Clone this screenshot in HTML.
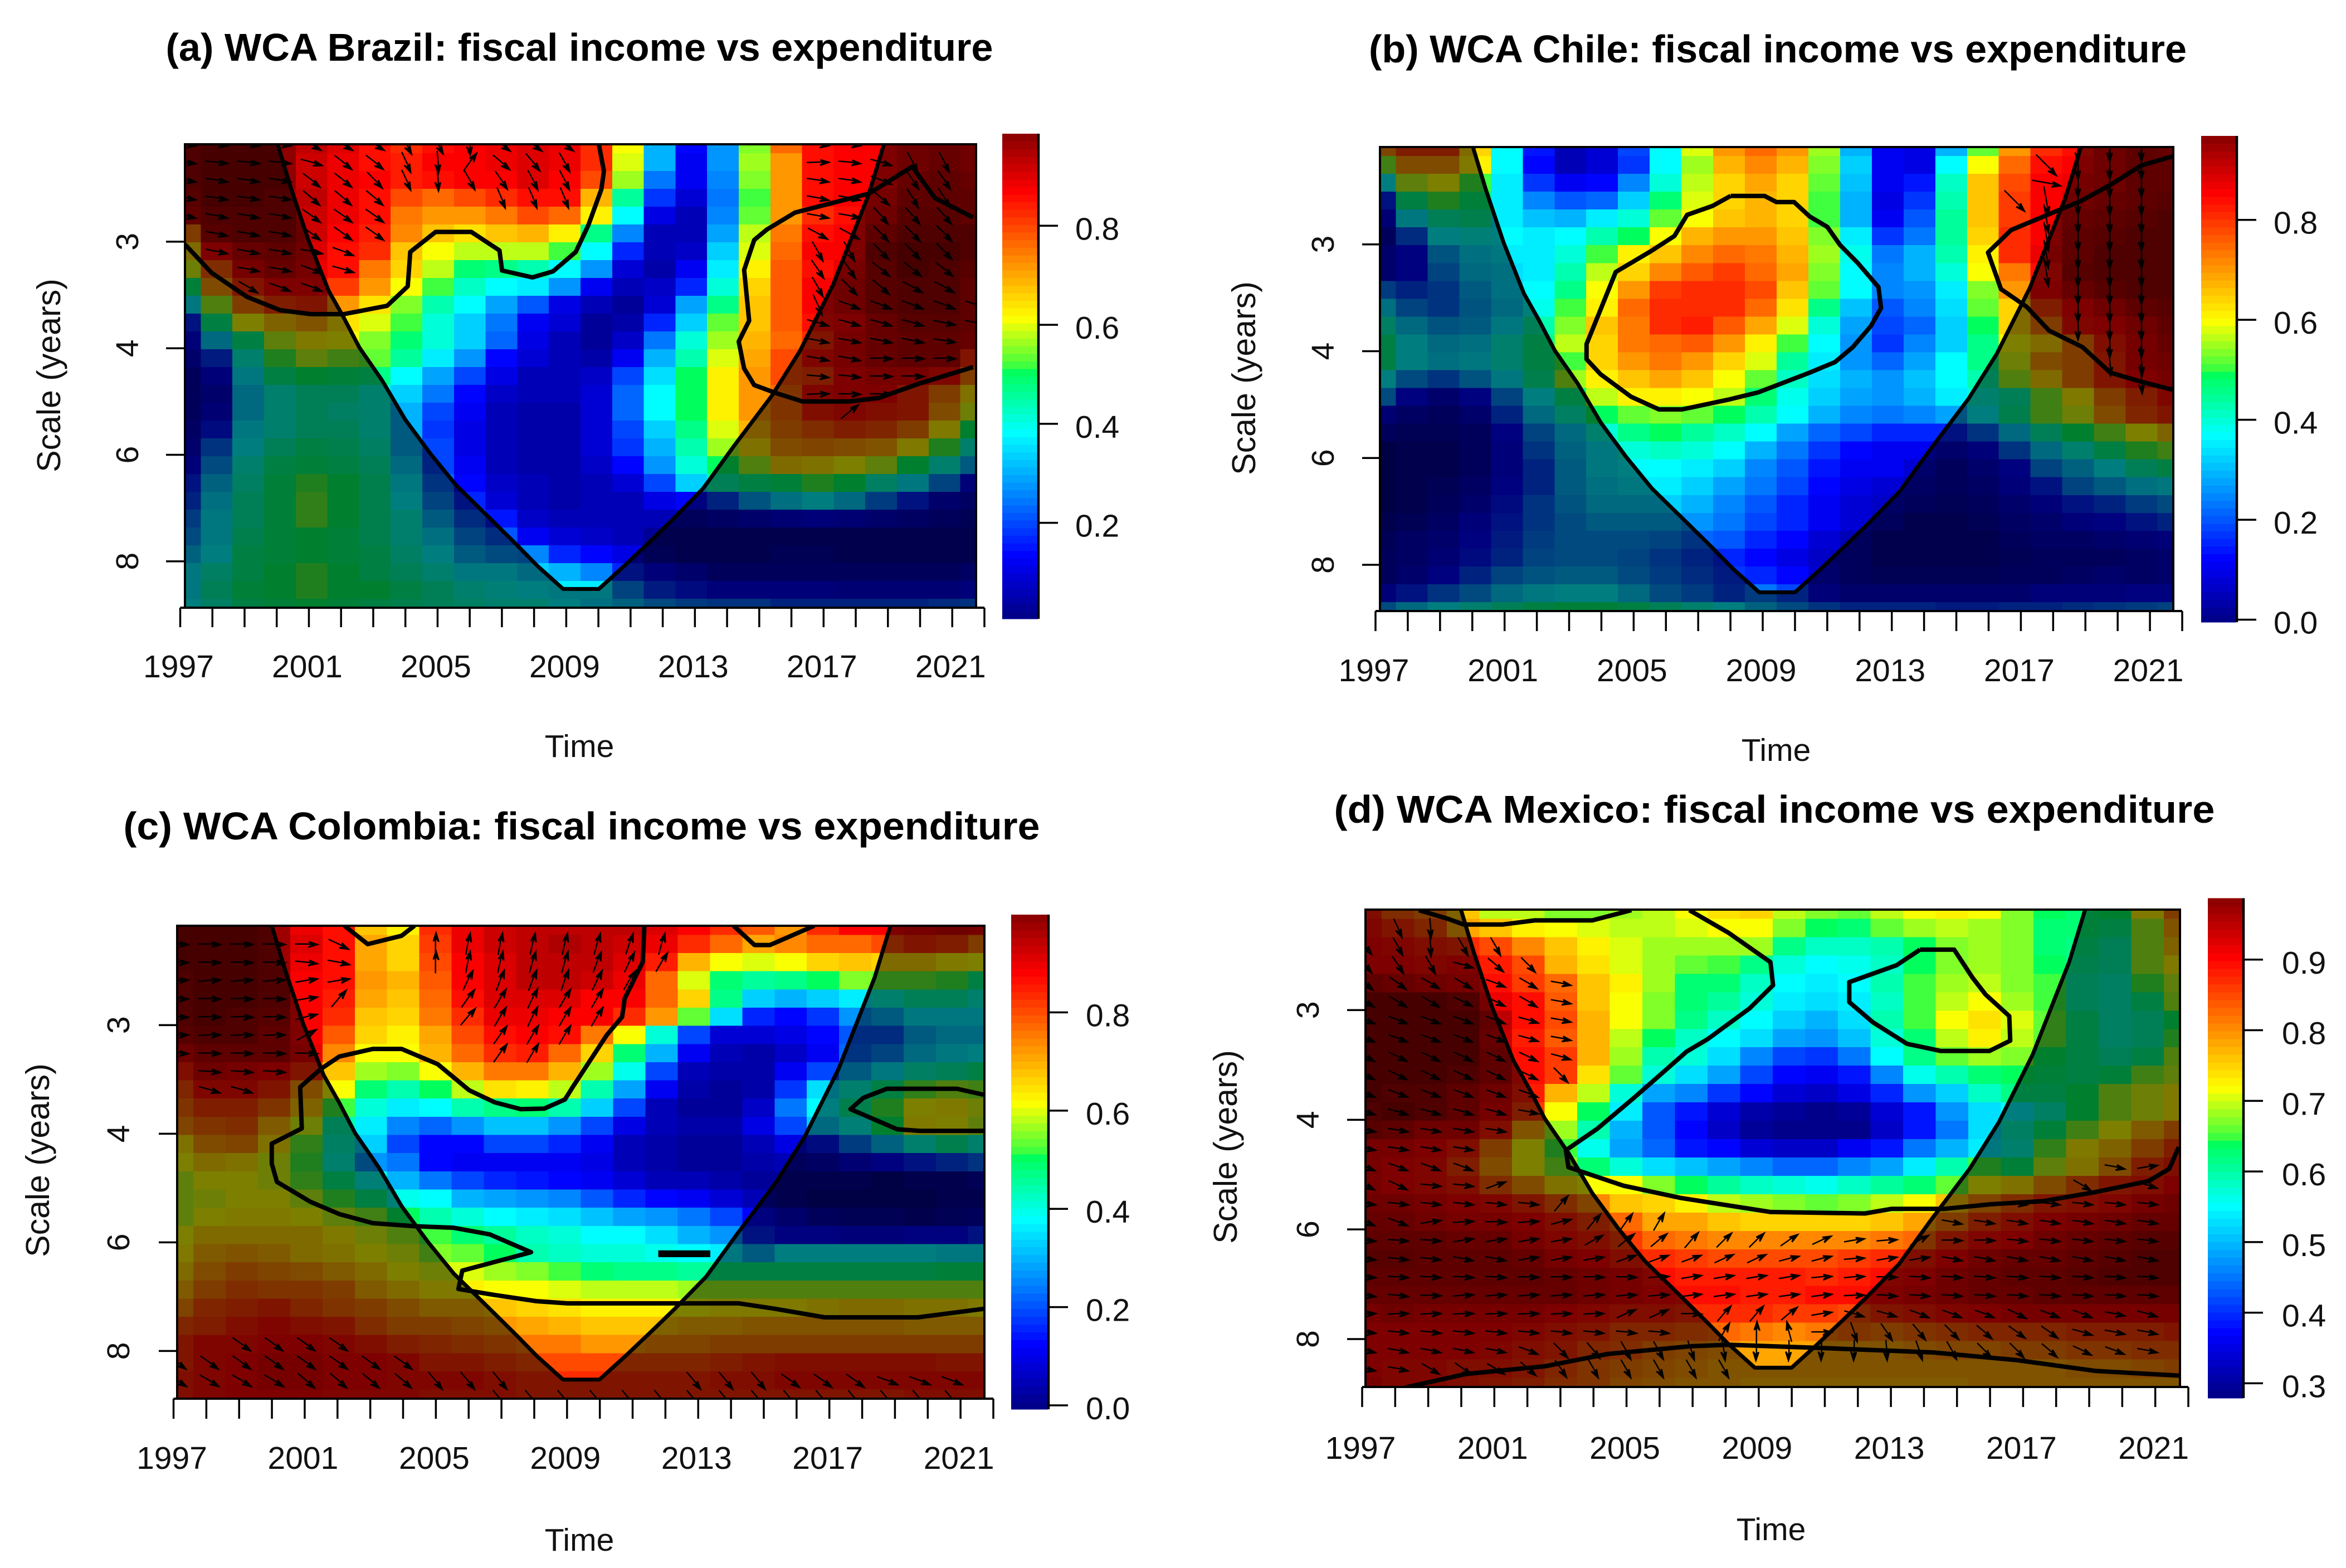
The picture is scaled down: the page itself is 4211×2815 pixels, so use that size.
<!DOCTYPE html>
<html lang="en">
<head>
<meta charset="utf-8">
<title>WCA fiscal income vs expenditure</title>
<style>
html,body{margin:0;padding:0;background:#fff}
svg{display:block}
text{font-family:"Liberation Sans",Arial,sans-serif;fill:#111}
.ttl{font-weight:bold;font-size:70px;fill:#000}
.lab{font-size:57px}
.ylab{font-size:59px}
</style>
</head>
<body>
<svg id="chart" xmlns="http://www.w3.org/2000/svg" width="4211" height="2815" viewBox="0 0 4211 2815">
<rect x="0" y="0" width="4211" height="2815" fill="#fff"/>
<g id="panel-a">
<text class="ttl" x="1040" y="109" text-anchor="middle" textLength="1485" lengthAdjust="spacingAndGlyphs">(a) WCA Brazil: fiscal income vs expenditure</text>
<text class="lab" x="1040" y="1359" text-anchor="middle">Time</text>
<text class="ylab" transform="translate(108 674) rotate(-90)" text-anchor="middle">Scale (years)</text>
</g>
<g id="panel-b">
<text class="ttl" x="3191" y="112" text-anchor="middle" textLength="1468" lengthAdjust="spacingAndGlyphs">(b) WCA Chile: fiscal income vs expenditure</text>
<text class="lab" x="3188" y="1366" text-anchor="middle">Time</text>
<text class="ylab" transform="translate(2253 679) rotate(-90)" text-anchor="middle">Scale (years)</text>
</g>
<g id="panel-c">
<text class="ttl" x="1044" y="1507" text-anchor="middle" textLength="1645" lengthAdjust="spacingAndGlyphs">(c) WCA Colombia: fiscal income vs expenditure</text>
<text class="lab" x="1040" y="2784" text-anchor="middle">Time</text>
<text class="ylab" transform="translate(88 2083) rotate(-90)" text-anchor="middle">Scale (years)</text>
</g>
<g id="panel-d">
<text class="ttl" x="3185" y="1477" text-anchor="middle" textLength="1581" lengthAdjust="spacingAndGlyphs">(d) WCA Mexico: fiscal income vs expenditure</text>
<text class="lab" x="3179" y="2765" text-anchor="middle">Time</text>
<text class="ylab" transform="translate(2220 2059) rotate(-90)" text-anchor="middle">Scale (years)</text>
</g>
</svg>
<script>
const yearTicks=[1997,1998,1999,2000,2001,2002,2003,2004,2005,2006,2007,2008,2009,2010,2011,2012,2013,2014,2015,2016,2017,2018,2019,2020,2021,2022];
const yearLabels=[1997,2001,2005,2009,2013,2017,2021];
const periodTicks=[2.828,4,5.657,8];
const periodLabels=['3','4','6','8'];
const barTicksA=[0.2,0.4,0.6,0.8];
const barTicksB=[0,0.2,0.4,0.6,0.8];
const barTicksC=[0,0.2,0.4,0.6,0.8];
const barTicksD=[0.3,0.4,0.5,0.6,0.7,0.8,0.9];

const coherenceA=[
[98,99,99,99,94,91,86,83,87,88,90,92,90,84,62,31,13,28,56,78,87,88,88,92,93,92],
[97,99,99,99,93,90,87,85,88,88,90,92,90,84,60,31,12,28,57,72,87,88,88,92,93,92],
[97,99,99,99,93,90,88,85,87,88,89,91,88,81,57,24,11,26,55,72,87,88,89,93,94,93],
[96,99,99,98,94,90,87,81,77,81,84,87,86,70,46,18,8,24,53,72,86,88,90,95,95,94],
[95,98,98,97,93,90,87,76,72,73,76,80,78,64,38,10,6,25,54,73,84,87,91,96,96,94],
[76,96,98,98,93,88,85,74,68,65,68,70,63,48,26,6,5,29,58,75,87,88,94,98,98,97],
[67,88,93,95,92,87,83,68,62,58,59,58,52,38,16,5,7,33,60,78,88,88,97,99,99,97],
[60,79,90,93,90,87,75,66,58,49,48,44,39,27,9,4,12,37,64,79,87,90,96,99,98,96],
[49,73,84,89,88,82,72,62,52,43,39,36,27,12,6,7,17,42,66,79,88,92,96,98,97,95],
[37,57,75,82,84,72,65,56,45,38,29,21,10,5,3,9,29,48,68,79,88,91,96,98,97,95],
[17,47,61,68,71,65,60,53,42,33,24,12,8,3,4,17,34,54,68,79,86,89,93,96,96,94],
[11,34,48,58,63,61,56,49,41,33,22,10,6,3,7,24,41,57,70,78,83,90,93,95,95,93],
[8,18,42,52,58,55,54,46,37,27,13,8,5,4,11,31,44,60,71,80,86,90,93,94,94,84],
[6,11,37,47,50,49,47,39,29,19,10,6,5,7,20,35,51,64,73,80,82,88,90,90,87,76],
[5,9,33,41,44,44,42,34,24,13,7,5,5,8,23,38,50,64,73,77,86,88,88,84,76,65],
[5,10,33,41,44,43,41,31,20,12,6,4,4,8,23,38,50,63,73,78,85,86,85,83,72,60],
[7,15,36,42,45,44,42,30,18,10,6,4,4,9,20,34,48,60,70,75,79,82,81,76,63,50],
[9,22,39,45,47,46,43,30,19,10,6,4,4,8,18,31,44,57,65,73,74,73,71,64,53,41],
[12,27,41,47,49,48,45,34,20,11,6,4,4,7,13,28,41,51,57,66,65,62,58,50,42,30],
[17,32,43,49,53,50,46,37,23,13,7,5,4,6,9,19,33,44,47,49,52,50,43,37,25,12],
[20,35,44,49,54,50,46,39,26,16,9,6,4,5,6,10,14,20,29,35,38,33,24,16,9,7],
[24,36,45,49,54,50,46,41,31,21,15,7,5,5,5,5,5,7,9,10,12,10,9,7,5,4],
[27,37,46,49,50,49,46,41,35,26,21,11,8,7,6,3,2,2,2,3,2,2,2,2,2,2],
[32,39,47,49,50,49,47,43,38,31,27,25,17,14,10,4,3,3,3,4,4,3,3,3,3,3],
[36,43,48,50,52,50,48,45,41,37,36,33,30,25,16,11,9,6,6,6,6,6,6,6,6,7],
[37,45,49,50,52,51,50,47,44,41,40,39,37,37,25,18,15,12,11,11,11,10,10,10,10,11],
[39,43,47,49,50,49,48,46,44,43,42,41,39,35,32,27,24,23,22,20,20,20,20,20,21,23]
];
const coherenceB=[
[74,82,82,66,38,15,5,9,19,38,60,73,78,72,57,31,11,10,30,54,72,83,87,92,95,93],
[56,72,72,64,38,14,5,8,18,38,57,69,74,69,55,33,11,10,38,62,78,87,88,91,94,94],
[38,58,61,53,37,18,11,13,25,41,58,67,71,67,54,32,11,15,43,68,81,88,90,92,94,95],
[17,47,52,49,36,25,21,22,33,49,60,66,69,66,53,31,10,18,44,68,82,88,92,93,95,96],
[10,36,45,46,37,32,30,36,42,54,62,68,70,66,52,30,12,21,46,68,82,88,93,95,96,97],
[6,21,38,40,38,36,38,44,50,62,69,72,72,68,55,36,18,24,46,66,83,88,94,96,97,98],
[8,13,29,35,37,37,41,52,63,68,74,78,76,70,57,40,24,30,44,64,83,90,95,97,97,98],
[9,14,26,33,35,37,44,58,67,74,79,82,78,71,56,39,25,30,41,61,76,86,96,97,97,98],
[24,19,22,30,35,38,48,62,72,82,84,84,80,68,54,38,25,28,37,56,72,88,93,96,97,97],
[35,26,22,29,33,40,53,64,77,83,84,84,78,65,47,32,21,25,35,54,67,82,88,92,94,96],
[43,33,29,30,37,45,56,68,76,83,85,79,71,60,42,29,20,23,33,50,66,76,86,89,92,94],
[48,38,33,35,41,47,59,67,75,78,79,72,63,53,39,27,18,25,33,47,62,66,76,85,90,93],
[47,39,35,36,41,48,53,66,72,75,72,67,60,46,36,27,23,29,38,47,60,72,76,84,90,92],
[38,27,22,29,36,46,57,63,68,71,68,62,54,43,35,30,28,32,38,45,57,66,75,83,88,90],
[27,13,9,14,25,38,47,58,64,63,62,58,49,40,34,29,28,31,36,41,44,55,63,76,82,87],
[10,7,6,9,20,33,43,50,54,56,54,50,44,38,31,26,24,25,29,38,46,55,60,73,80,84],
[6,4,4,6,13,25,34,42,47,50,46,43,38,29,23,19,16,17,17,22,34,44,50,56,62,68],
[1,2,2,5,11,22,32,37,41,43,41,38,30,24,18,14,12,11,9,12,23,34,41,47,52,56],
[1,2,3,6,11,20,31,36,39,39,37,33,26,21,15,12,11,8,6,8,14,25,32,38,44,47],
[0,2,4,7,13,20,30,35,36,37,34,29,24,19,14,10,9,7,5,7,11,17,26,30,35,37],
[1,3,5,9,15,22,29,33,34,34,31,26,21,17,12,9,7,5,4,5,8,12,16,20,24,27],
[2,4,7,11,17,23,28,30,31,31,28,24,19,16,11,8,5,3,3,4,7,9,11,14,16,20],
[4,7,9,13,18,24,27,28,27,25,23,21,17,14,9,6,3,2,2,3,5,7,7,9,10,11],
[5,7,10,15,20,25,27,27,25,22,20,17,13,10,7,5,3,2,2,3,4,5,6,6,7,8],
[6,9,14,19,25,29,31,30,28,24,21,18,17,13,8,5,4,4,4,4,5,6,7,8,7,8],
[12,16,23,28,33,37,39,38,34,28,24,20,24,19,12,9,8,8,8,9,9,11,12,12,13,14],
[28,33,38,42,45,47,49,49,47,44,42,38,32,28,23,20,19,19,18,18,19,20,21,22,24,26]
];
const coherenceC=[
[99,99,99,98,90,86,68,64,83,90,93,94,95,95,94,92,88,83,79,72,84,88,88,90,92,90],
[99,99,99,98,91,86,71,66,82,90,93,94,96,95,93,90,84,77,71,74,78,78,81,84,82,76],
[99,99,99,97,90,87,71,67,81,89,92,94,95,94,91,85,70,62,60,62,66,68,66,66,64,62],
[98,99,99,97,89,86,72,69,79,88,92,94,95,93,90,78,60,49,46,48,51,55,54,54,52,48],
[98,99,99,97,88,85,71,68,77,87,91,92,91,89,88,78,66,47,34,31,33,37,41,44,44,42],
[98,99,98,96,88,83,68,67,75,84,90,90,89,88,84,73,54,35,17,13,18,27,30,36,36,36],
[96,98,97,95,89,79,66,63,71,80,86,88,87,75,61,42,20,9,9,10,13,21,21,30,33,33],
[92,95,95,94,90,74,62,61,69,77,84,85,78,67,49,31,12,5,4,7,12,22,26,33,37,38],
[85,91,90,88,83,68,57,55,62,70,76,76,69,57,40,19,6,4,4,11,19,31,36,43,45,47],
[81,86,87,84,72,61,49,44,51,59,65,63,58,45,29,12,4,3,4,18,35,42,47,54,57,55],
[78,82,82,78,68,52,42,37,38,45,48,49,45,33,19,6,3,3,7,24,38,46,53,61,63,60],
[74,78,79,70,60,45,36,26,22,28,32,32,27,20,10,5,4,4,10,20,33,40,50,63,62,58],
[65,73,74,65,54,43,34,20,13,14,19,19,17,12,6,4,3,3,5,10,15,24,32,41,46,42],
[61,66,65,60,52,42,28,24,13,11,11,12,12,10,6,4,3,3,4,5,7,10,13,17,19,23],
[58,62,61,60,54,47,40,31,24,19,17,15,13,12,9,5,5,4,3,2,2,2,1,3,3,4],
[58,60,61,61,58,53,48,40,38,31,29,27,26,21,16,13,12,8,6,2,1,1,0,1,2,3],
[58,62,64,63,62,59,55,50,44,41,38,37,35,32,29,27,24,19,13,8,5,4,4,3,4,5],
[61,66,67,66,66,63,60,57,52,49,46,43,41,39,38,35,31,27,17,14,13,12,12,13,14,17],
[63,70,71,70,66,65,62,60,56,54,50,45,43,42,41,40,38,36,31,38,38,38,38,38,37,36],
[66,73,75,74,73,70,66,62,60,60,57,55,52,49,48,48,46,47,48,48,48,48,48,48,49,49],
[70,76,79,78,77,75,70,66,63,63,62,61,60,58,58,58,57,57,57,57,57,57,57,57,57,57],
[74,80,82,83,81,78,75,72,70,69,68,67,65,64,63,63,62,63,64,64,65,66,66,65,65,63],
[80,82,85,86,85,83,79,76,75,74,72,71,70,68,68,68,69,70,71,71,71,71,71,70,70,70],
[83,86,87,89,88,87,85,82,80,79,77,75,75,73,73,74,74,75,76,76,76,76,76,76,76,76],
[84,87,88,90,90,89,88,86,84,83,82,81,80,80,80,80,81,82,84,85,85,85,85,85,84,84],
[85,87,89,90,90,89,88,87,86,86,85,84,84,84,84,84,84,85,85,86,86,86,86,86,86,86],
[85,87,88,88,88,87,87,86,85,85,85,84,84,84,84,84,84,84,84,84,84,84,84,85,85,85]
];
const coherenceD=[
[88,84,82,76,70,70,67,67,69,70,72,74,75,70,67,66,70,72,73,72,67,64,63,64,73,82],
[90,87,85,78,76,73,72,71,70,70,71,72,72,67,64,63,66,68,70,69,67,63,63,62,69,79],
[91,90,89,87,85,81,76,73,71,69,69,69,69,62,59,58,60,64,67,68,67,63,62,60,68,76],
[91,91,90,91,89,85,77,74,71,68,66,65,62,57,55,56,59,64,67,68,67,64,61,60,68,73],
[95,94,93,92,90,86,83,76,73,68,63,63,59,55,54,55,60,65,69,70,67,65,60,59,65,70],
[98,98,98,97,92,90,84,76,72,67,63,61,57,54,53,54,59,65,70,72,69,65,60,58,62,68],
[99,99,99,98,95,90,85,77,72,67,62,58,55,52,50,53,60,65,72,74,71,66,62,58,60,64],
[99,99,99,98,94,89,84,77,70,64,59,55,53,48,47,51,57,63,70,73,70,66,62,58,60,65],
[99,99,99,98,95,90,86,77,69,60,57,53,46,42,41,45,55,62,66,68,67,64,62,60,62,69],
[99,98,98,97,95,90,86,74,66,57,53,48,42,37,36,38,46,56,60,63,64,63,62,63,67,70],
[98,97,97,95,93,89,77,70,57,49,46,41,37,34,33,35,40,47,52,58,62,62,64,68,71,73],
[97,98,97,95,92,86,72,64,54,43,38,34,31,30,29,30,34,39,47,53,55,59,64,68,71,73],
[96,95,93,93,88,78,69,60,50,43,37,33,30,29,28,29,33,38,45,53,58,63,67,72,77,82],
[92,92,91,88,82,72,65,56,49,44,39,37,34,33,33,36,39,45,50,54,57,66,73,76,82,86],
[92,91,90,86,80,72,67,63,57,53,51,49,46,44,44,46,49,54,60,65,63,70,74,80,86,89],
[92,91,90,88,84,80,74,72,72,67,64,61,59,57,56,59,61,63,66,72,74,80,84,87,89,91],
[93,93,92,91,90,87,84,81,76,75,73,70,69,67,66,67,70,72,76,81,84,87,89,90,92,93],
[94,94,93,92,92,91,89,86,83,79,78,76,75,75,75,75,76,79,82,86,89,91,92,93,94,94],
[95,95,95,94,94,92,90,88,86,83,82,81,81,81,81,81,82,83,87,90,91,93,94,95,96,96],
[96,96,95,95,95,94,92,91,89,87,86,85,85,85,85,86,87,89,91,93,94,94,95,96,97,97],
[95,95,95,95,95,95,94,93,92,90,89,88,89,89,87,88,90,91,93,94,95,95,96,97,97,97],
[94,94,94,94,94,94,94,93,92,91,90,90,89,89,90,90,91,92,93,94,94,95,95,95,95,95],
[92,93,92,92,92,92,91,90,89,89,87,87,87,86,86,85,87,89,90,91,92,92,92,92,92,92],
[91,91,91,91,91,90,89,87,85,85,84,83,82,81,82,83,82,83,84,85,85,85,86,86,86,87],
[91,91,91,91,90,89,87,85,84,82,81,80,79,79,79,79,79,80,81,81,82,82,83,83,84,84],
[91,90,90,89,88,87,85,83,82,81,80,79,78,78,78,78,78,78,79,79,79,79,80,80,81,82],
[92,90,90,89,87,86,84,83,81,80,79,78,77,77,77,77,77,77,77,78,78,78,78,78,79,79]
];

/* cone of influence, as (grid column, grid row) */
const coiCols=[2.93,3.33,3.90,4.54,5.02,5.51,6.23,6.96,7.76,8.57,9.53,10.5,11.14,11.95,13.08,13.88,14.69,15.41,16.38,17.34,18.55,19.44,20.48,21.6,22.09];
const coiRows=[0,2.35,5.37,8.22,9.73,11.4,13.25,15.44,17.37,19.13,20.8,22.5,23.66,24.95,24.95,23.66,22.3,21.06,19.3,16.95,14.1,11.58,7.89,2.85,0];

/* significance contours, as (grid column, grid row) */
const contoursA=[
[[0,5.62],[.84,7.21],[1.96,8.56],[3.01,9.31],[3.98,9.53],[5.02,9.53],[6.39,9.06],[7.04,7.97],[7.12,6.04],[7.92,4.92],[9.05,4.92],[9.94,5.96],[10.02,7.08],[10.98,7.47],[11.63,7.13],[12.35,6.04],[12.75,4.53],[13.16,2.52],[13.24,1.51],[13.08,0]],
[[24.91,12.5],[23.22,13.42],[21.93,14.23],[20.97,14.43],[19.52,14.43],[18.63,13.93],[17.99,13.51],[17.67,12.58],[17.5,11.07],[17.83,9.9],[17.67,7.05],[17.99,5.37],[18.39,4.78],[19.28,3.83],[21.61,2.77],[22.98,1.26],[23.7,3.02],[24.91,4.11]]
];
const contoursB=[
[[11.05,2.74],[12.12,2.74],[12.49,3.08],[13.05,3.08],[13.54,3.89],[14.1,4.48],[14.5,5.49],[15.06,6.5],[15.71,7.85],[15.79,9.02],[15.47,10.03],[14.9,11.21],[14.34,12.05],[13.54,12.64],[11.93,13.74],[10.96,14.16],[9.52,14.7],[8.79,14.7],[7.91,13.99],[6.95,12.73],[6.51,11.89],[6.51,11.04],[6.95,9.11],[7.43,7.0],[8.55,5.82],[9.28,4.98],[9.68,3.8],[10.48,3.3],[11.05,2.74]],
[[24.98,13.6],[23.99,13.15],[23.02,12.64],[22.14,11.21],[21.09,10.29],[20.37,8.94],[19.57,7.96],[19.16,5.91],[19.89,4.65],[21.25,3.64],[22.06,3.05],[23.02,2.12],[23.99,1.03],[24.98,.52]]
];
const contoursC=[
[[5.18,0],[5.9,1.01],[6.95,.55],[7.35,0]],
[[17.23,0],[17.88,1.06],[18.36,1.06],[19.73,0]],
[[14.47,0],[14.42,1.98],[13.86,4.0],[13.78,5.01],[13.3,6.02],[12.25,8.87],[12.01,9.55],[11.37,10.05],[10.64,10.08],[9.84,9.71],[9.04,9.04],[8.07,7.61],[6.95,6.77],[6.06,6.77],[5.02,7.19],[4.45,7.87],[3.81,8.87],[3.86,11.14],[2.93,11.98],[2.93,13.08],[3.09,14.08],[4.13,15.18],[5.02,15.85],[6.06,16.35],[7.35,16.52],[8.55,16.6],[9.68,16.97],[10.96,17.95],[8.83,18.96],[8.71,19.97],[9.84,20.3],[11.13,20.64],[12.09,20.76],[17.4,20.76],[18.52,21.06],[20.05,21.53],[22.94,21.53],[24.98,21.06]],
[[24.98,9.29],[24.15,8.96],[21.98,8.96],[21.25,9.46],[20.85,10.08],[22.3,11.19],[23.02,11.28],[24.98,11.28]],
[[14.9,17.97],[16.51,17.97]],
[[14.9,18.1],[16.51,18.1]]
];
const contoursD=[
[[1.64,.03],[2.53,.5],[3.01,.81],[4.22,.81],[5.19,.59],[6.96,.59],[8.16,.03]],
[[9.94,.03],[11.14,1.26],[12.43,2.86],[12.51,4.12],[11.79,5.38],[10.5,7.06],[9.86,7.73],[8.89,9.24],[8.24,10.25],[7.12,11.93],[6.15,13.11],[6.23,14.03],[7.92,15.04],[9.69,15.71],[12.43,16.47],[15.33,16.55],[16.14,16.3],[17.75,16.3],[19.19,16.05],[20.8,15.88],[22.42,15.38],[24.03,14.79],[24.67,14.12],[24.96,12.94]],
[[17.02,2.18],[18.07,2.18],[18.63,3.7],[19.03,4.62],[19.76,5.8],[19.79,7.14],[19.15,7.7],[17.66,7.7],[16.62,7.31],[15.57,6.13],[14.85,5.04],[14.85,3.95],[16.3,3.03],[17.02,2.18]],
[[1.24,26.02],[3.09,25.29],[5.51,24.87],[7.44,24.2],[10.0,23.78],[11.14,23.7],[13.88,23.87],[17.42,24.12],[20.0,24.54],[22.42,25.13],[24.99,25.38]]
];

/* phase arrows: [grid row, first column, last column, phase angle in degrees] */
const phaseArrowsA=[
[0,0,3,5],[0,4,6,30],[0,7,8,60],[0,9,9,85],[0,10,12,35],[0,20,21,5],
[1,0,3,5],[1,4,4,15],[1,5,6,38],[1,7,7,65],[1,8,8,85],[1,9,9,-55],[1,10,10,40],[1,11,11,50],[1,12,12,60],[1,20,20,-2],[1,21,21,5],[1,22,22,15],[1,23,24,62],
[2,0,3,8],[2,4,5,38],[2,6,6,45],[2,7,7,65],[2,8,8,85],[2,9,9,60],[2,10,10,55],[2,11,12,62],[2,20,21,8],[2,22,22,20],[2,23,24,55],
[3,0,3,8],[3,4,6,40],[3,10,12,67],[3,20,21,10],[3,22,22,40],[3,23,24,58],
[4,0,3,10],[4,4,6,35],[4,20,21,10],[4,22,24,48],
[5,1,3,10],[5,4,6,35],[5,20,21,28],[5,22,24,45],
[6,1,4,10],[6,5,5,20],[6,20,21,60],[6,22,24,45],
[7,2,3,10],[7,4,4,20],[7,5,5,15],[7,20,21,55],[7,22,24,38],
[8,2,2,30],[8,3,4,20],[8,20,20,60],[8,21,21,45],[8,22,22,40],[8,23,24,28],
[9,20,20,65],[9,21,25,20],[10,20,23,15],[10,24,25,10],[11,20,23,10],[11,24,24,8],[12,20,21,10],[12,22,24,0],[13,20,21,5],[13,22,23,0],[14,20,20,-3],[14,21,22,0],[15,21,21,-40]
];
const phaseArrowsB=[
[0,22,24,88],[1,22,24,88],[2,22,24,88],[3,22,24,88],[4,22,24,88],[5,22,24,88],[6,22,24,88],[7,22,24,88],[8,22,24,88],[9,22,24,88],[10,22,24,88],[11,23,24,88],
[3,21,21,80],[4,21,21,80],[5,21,21,80],[6,21,21,80],[7,21,21,80],[1,21,21,45],[2,21,21,10],[3,20,20,45],[12,23,24,85],[13,24,24,85]
];
const phaseArrowsC=[
[1,0,4,0],[1,5,5,25],[2,0,3,0],[2,4,4,5],[2,5,5,10],[3,0,3,-5],[3,4,5,-10],[4,0,3,0],[4,4,4,-10],[4,5,5,-50],[5,0,3,0],[5,4,4,-15],[6,0,3,-3],[6,4,4,-30],[7,0,4,0],[8,1,3,3],[9,1,2,15],
[1,8,8,-90],[1,9,10,-80],[1,11,12,-78],[1,13,13,-75],[1,14,14,-72],[1,15,15,-75],
[2,8,8,-90],[2,9,9,-80],[2,10,10,-78],[2,11,12,-75],[2,13,13,-70],[2,14,14,-65],[2,15,15,-60],
[3,9,9,-65],[3,10,11,-70],[3,12,12,-72],[3,13,13,-65],[3,14,14,-60],
[4,9,9,-55],[4,10,10,-60],[4,11,11,-65],[4,12,13,-60],
[5,9,9,-50],[5,10,10,-60],[5,11,11,-65],[5,12,13,-60],
[6,10,10,-55],[6,11,12,-60],[7,10,10,-55],[7,11,11,-60],
[23,2,5,35],[24,0,7,35],[25,0,3,30],[25,4,7,40],[25,8,10,50],[25,16,18,50],[25,19,21,35],[25,22,24,20],[26,10,24,50]
];
const phaseArrowsD=[
[1,1,1,65],[1,2,2,85],[2,0,0,50],[2,1,1,60],[2,2,2,85],[2,3,4,60],
[3,0,0,50],[3,1,1,55],[3,2,2,60],[3,3,3,15],[3,4,4,40],[3,5,5,45],
[4,0,0,40],[4,1,1,35],[4,2,3,30],[4,4,4,20],[4,5,5,30],[4,6,6,10],
[5,0,2,30],[5,3,4,25],[5,5,5,30],[5,6,6,10],
[6,0,4,20],[6,5,5,15],[6,6,6,10],[7,0,4,20],[7,5,5,15],[7,6,6,10],
[8,0,5,25],[8,6,6,15],[9,0,5,25],[9,6,6,45],[10,0,5,20],[11,0,4,15],[11,5,5,10],[12,0,4,8],[13,0,3,8],[14,0,3,20],[14,23,23,10],[14,24,24,-10],
[15,0,1,25],[15,2,3,5],[15,4,4,-20],[15,22,22,30],[15,24,24,15],
[16,0,5,5],[16,6,6,-50],[16,20,24,5],
[17,0,1,20],[17,2,2,-10],[17,3,3,-5],[17,4,4,0],[17,5,5,-5],[17,6,6,-15],[17,7,7,-50],[17,8,8,-55],[17,9,9,-60],[17,18,18,10],[17,19,24,8],
[18,0,2,3],[18,3,6,-10],[18,7,7,-30],[18,8,9,-40],[18,10,10,-50],[18,11,12,-45],[18,13,13,-35],[18,14,14,-25],[18,15,15,-10],[18,16,16,-5],[18,17,17,-30],[18,18,19,0],[18,20,24,5],
[19,0,2,5],[19,3,4,10],[19,5,7,-10],[19,8,10,-20],[19,11,12,-25],[19,13,14,-15],[19,15,15,-5],[19,16,17,-10],[19,18,24,10],
[20,0,4,2],[20,5,8,0],[20,9,9,-5],[20,10,13,-10],[20,14,15,-5],[20,16,16,0],[20,17,24,3],
[21,0,1,5],[21,2,2,0],[21,3,9,-5],[21,10,14,-8],[21,15,15,-3],[21,16,24,3],
[22,0,7,-3],[22,8,9,-25],[22,10,10,0],[22,11,12,-50],[22,13,13,-40],[22,14,14,-10],[22,15,16,15],[22,17,19,20],[22,20,20,25],[22,21,22,20],[22,23,23,10],[22,24,24,15],
[23,0,9,5],[23,11,11,-60],[23,12,12,-90],[23,13,13,-105],[23,14,14,0],[23,15,15,70],[23,16,16,55],[23,17,17,50],[23,18,18,45],[23,19,19,40],[23,20,21,35],[23,22,22,15],[23,23,24,10],
[24,0,4,10],[24,5,5,20],[24,6,6,45],[24,7,7,50],[24,8,9,60],[24,10,10,70],[24,11,11,80],[24,12,15,90],[24,16,16,85],[24,17,17,70],[24,18,18,60],[24,19,20,45],[24,21,21,40],[24,22,22,25],[24,23,23,20],[24,24,24,10],
[25,0,1,10],[25,2,2,30],[25,3,3,35],[25,4,4,30],[25,5,5,40],[25,6,6,55],[25,7,11,60]
];

const SVG_NS='http://www.w3.org/2000/svg';
const rampStops=[[0,0,0,130],[.13,0,0,255],[.25,0,127,255],[.385,0,255,255],[.51,0,255,90],[.525,70,255,60],[.62,255,255,0],[.75,255,128,0],[.88,255,0,0],[1,135,0,0]];
const LEVELS=64;

function rampColor(t){
  let lvl=Math.floor(t*LEVELS);
  lvl=Math.max(0,Math.min(LEVELS-1,lvl));
  const u=(lvl+.5)/LEVELS;
  for(let i=1;i<rampStops.length;i++){
    if(u<=rampStops[i][0]){
      const a=rampStops[i-1],b=rampStops[i],f=(u-a[0])/(b[0]-a[0]);
      return 'rgb('+Math.round(a[1]+(b[1]-a[1])*f)+','+Math.round(a[2]+(b[2]-a[2])*f)+','+Math.round(a[3]+(b[3]-a[3])*f)+')';
    }
  }
  return 'rgb(135,0,0)';
}
function svgEl(tag,attrs,parent){
  const el=document.createElementNS(SVG_NS,tag);
  for(const k in attrs){el.setAttribute(k,attrs[k]);}
  parent.appendChild(el);
  return el;
}

const panels=[
 {id:'panel-a',data:coherenceA,contours:contoursA,arrows:phaseArrowsA,barTicks:barTicksA,colorLo:0,colorHi:100,
  left:332,right:1752,top:259,bottom:1091,tick0:323.5,tick1:1767,tickBottom:1126,yearBase:1216,
  barL:1799,barR:1863,barT:240,barB:1111,barLo:.006,barHi:.986,barLabelX:1930,
  y15:434,y30:1007.7,yTickX:298,yLabelX:248,arrowLen:40},
 {id:'panel-b',data:coherenceB,contours:contoursB,arrows:phaseArrowsB,barTicks:barTicksB,colorLo:0,colorHi:100,
  left:2477,right:3901,top:264,bottom:1097,tick0:2469,tick1:3917,tickBottom:1133,yearBase:1223,
  barL:3951,barR:4014,barT:244,barB:1117,barLo:-.005,barHi:.968,barLabelX:4081,
  y15:438.8,y30:1014,yTickX:2445,yLabelX:2394,arrowLen:52},
 {id:'panel-c',data:coherenceC,contours:contoursC,arrows:phaseArrowsC,barTicks:barTicksC,colorLo:0,colorHi:100,
  left:318,right:1767,top:1662,bottom:2511,tick0:311.5,tick1:1783,tickBottom:2547,yearBase:2637,
  barL:1815,barR:1881,barT:1642,barB:2530,barLo:-.008,barHi:.999,barLabelX:1949,
  y15:1840.4,y30:2425.4,yTickX:285,yLabelX:232,arrowLen:40},
 {id:'panel-d',data:coherenceD,contours:contoursD,arrows:phaseArrowsD,barTicks:barTicksD,colorLo:28,colorHi:99,
  left:2451,right:3913,top:1633,bottom:2490,tick0:2445,tick1:3928,tickBottom:2526,yearBase:2619,
  barL:3963,barR:4026,barT:1612.5,barB:2510,barLo:.279,barHi:.987,barLabelX:4096,
  y15:1813.5,y30:2404,yTickX:2418,yLabelX:2367,arrowLen:37}
];

function colX(p,c){return p.left+c*(p.right-p.left)/25;}
function rowY(p,r){return p.top+r*(p.bottom-p.top)/26;}
function yearX(p,yr){return p.tick0+(yr-yearTicks[0])*(p.tick1-p.tick0)/(yearTicks[yearTicks.length-1]-yearTicks[0]);}
function periodY(p,per){return p.y15+(Math.log2(per)-1.5)*(p.y30-p.y15)/1.5;}
function barY(p,v){return p.barB-(v-p.barLo)*(p.barB-p.barT)/(p.barHi-p.barLo);}
function valueColor(p,v){return rampColor((v-p.colorLo)/(p.colorHi-p.colorLo));}
function linePath(p,pts){return pts.map(function(q,i){return (i?'L':'M')+colX(p,q[0]).toFixed(1)+' '+rowY(p,q[1]).toFixed(1);}).join(' ');}

function drawHeatmap(p,g){
  p.data.forEach(function(row,r){
    row.forEach(function(v,c){
      const x0=Math.max(p.left,colX(p,c-.5)),x1=Math.min(p.right,colX(p,c+.5));
      const y0=Math.max(p.top,rowY(p,r-.5)),y1=Math.min(p.bottom,rowY(p,r+.5));
      const cell=svgEl('rect',{x:x0,y:y0,width:x1-x0+.5,height:y1-y0+.5,fill:valueColor(p,v),'shape-rendering':'crispEdges'},g);
      
      
    });
  });
}
function drawMask(p,g,clipId){
  const pts=coiCols.map(function(c,i){return [c,coiRows[i]];});
  const rect='M'+p.left+' '+p.top+' H'+p.right+' V'+p.bottom+' H'+p.left+' Z ';
  const mask=svgEl('path',{d:rect+linePath(p,pts)+' Z','fill-rule':'evenodd',fill:'#000','fill-opacity':.5},g);
  
  
  const line=svgEl('path',{d:linePath(p,pts),fill:'none',stroke:'#000','stroke-width':7,'stroke-linejoin':'round','clip-path':'url(#'+clipId+')'},g);
  
  
}
function drawContours(p,g,clipId){
  p.contours.forEach(function(pts){
    const c=svgEl('path',{d:linePath(p,pts),fill:'none',stroke:'#000','stroke-width':8,'stroke-linejoin':'round','clip-path':'url(#'+clipId+')'},g);
    
    
  });
}
function drawArrows(p,g,clipId){
  const wrap=svgEl('g',{'clip-path':'url(#'+clipId+')'},g);
  
  
  const L=p.arrowLen;
  p.arrows.forEach(function(run){
    for(let c=run[1];c<=run[2];c++){
      const x=colX(p,c),y=rowY(p,run[0]);
      const d='M'+(-L/2)+' 0 H'+(L/2-8)+' M'+(L/2)+' 1 L'+(L/2-15)+' -4 L'+(L/2-10)+' 1 L'+(L/2-16)+' 6 Z';
      const a=svgEl('path',{d:d,transform:'translate('+x.toFixed(1)+' '+y.toFixed(1)+') rotate('+run[3]+')',stroke:'#000','stroke-width':2.5,fill:'#000'},wrap);
      
      
    }
  });
}
function drawAxes(p,g){
  const box=svgEl('rect',{x:p.left,y:p.top,width:p.right-p.left,height:p.bottom-p.top,fill:'none',stroke:'#000','stroke-width':4},g);
  
  
  const xLine=svgEl('line',{x1:yearX(p,yearTicks[0]),x2:yearX(p,yearTicks[yearTicks.length-1]),y1:p.bottom,y2:p.bottom,stroke:'#000','stroke-width':4},g);
  
  
  yearTicks.forEach(function(yr){
    const t=svgEl('line',{x1:yearX(p,yr),x2:yearX(p,yr),y1:p.bottom,y2:p.tickBottom,stroke:'#000','stroke-width':3.5},g);
    
    
  });
  yearLabels.forEach(function(yr){
    const t=svgEl('text',{x:yearX(p,yr)-3,y:p.yearBase,'text-anchor':'middle',class:'lab'},g);
    t.textContent=String(yr);
    
    
  });
  periodTicks.forEach(function(per,i){
    const y=periodY(p,per);
    const t=svgEl('line',{x1:p.yTickX,x2:p.left,y1:y,y2:y,stroke:'#000','stroke-width':3.5},g);
    
    
    const l=svgEl('text',{transform:'translate('+p.yLabelX+' '+y+') rotate(-90)','text-anchor':'middle',class:'lab'},g);
    l.textContent=periodLabels[i];
    
    
  });
}
function drawColorbar(p,g){
  const h=(p.barB-p.barT)/LEVELS;
  for(let i=0;i<LEVELS;i++){
    const seg=svgEl('rect',{x:p.barL,y:p.barB-(i+1)*h,width:p.barR-p.barL,height:h+.6,fill:rampColor((i+.5)/LEVELS),'shape-rendering':'crispEdges'},g);
    
    
  }
  const axis=svgEl('line',{x1:p.barR+1,x2:p.barR+1,y1:p.barT,y2:p.barB,stroke:'#000','stroke-width':4.5},g);
  
  
  p.barTicks.forEach(function(v){
    const y=barY(p,v);
    const t=svgEl('line',{x1:p.barR,x2:p.barR+36,y1:y,y2:y,stroke:'#000','stroke-width':3.5},g);
    
    
    const l=svgEl('text',{x:p.barLabelX,y:y+25,class:'lab'},g);
    l.textContent=v.toFixed(1);
    
    
  });
}

panels.forEach(function(p){
  const g=document.getElementById(p.id);
  const clipId=p.id+'-clip';
  const clip=svgEl('clipPath',{id:clipId},g);
  svgEl('rect',{x:p.left,y:p.top,width:p.right-p.left,height:p.bottom-p.top},clip);
  drawHeatmap(p,g);
  drawMask(p,g,clipId);
  drawArrows(p,g,clipId);
  drawContours(p,g,clipId);
  drawAxes(p,g);
  drawColorbar(p,g);
});
</script>
</body>
</html>
